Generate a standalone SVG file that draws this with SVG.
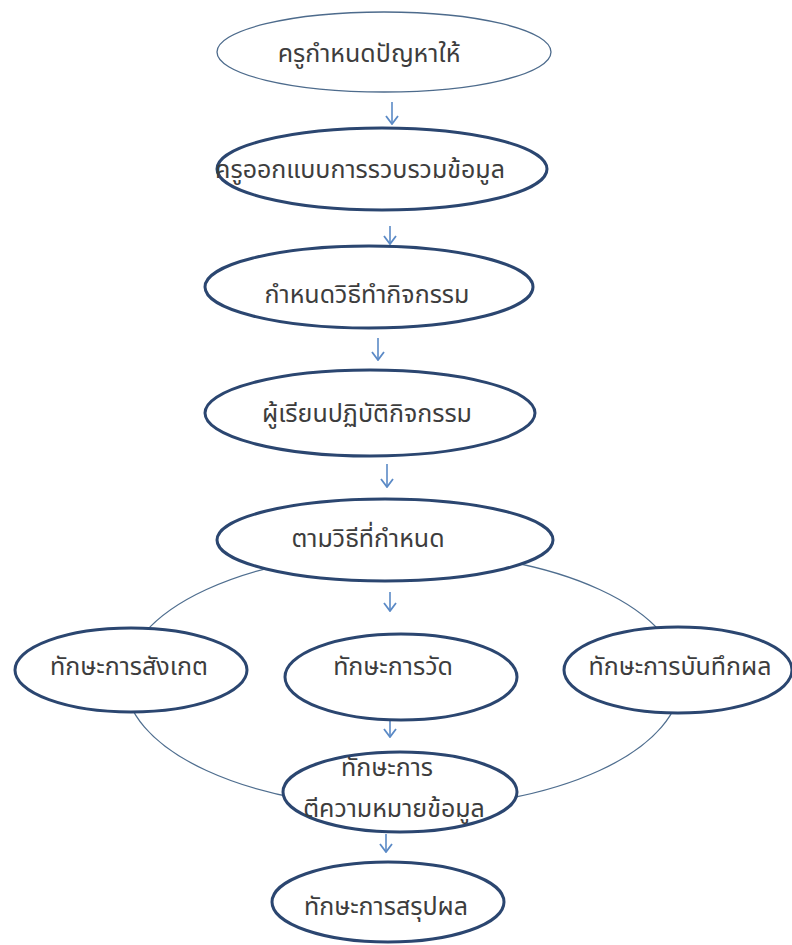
<svg xmlns="http://www.w3.org/2000/svg" width="792" height="945" viewBox="0 0 792 945">
<style>
  .bg { fill: #ffffff; }
  .node { fill: #ffffff; stroke: #2b4670; stroke-width: 3; }
  .node-thin { fill: #ffffff; stroke: #4d6b8c; stroke-width: 1.3; }
  .ring { fill: none; stroke: #4f6e8f; stroke-width: 1.3; }
  .arrow { fill: none; stroke: #5b8ac6; stroke-width: 1.6; }
  .label { font-family: "Noto Sans Thai", "Noto Sans", "DejaVu Sans", sans-serif; font-size: 25px; fill: #3d3d3d; text-anchor: middle; }
</style>
<defs>
  <marker id="vhead" viewBox="0 0 10 14" refX="9" refY="7" markerWidth="10" markerHeight="14" markerUnits="userSpaceOnUse" orient="auto">
    <path d="M1,1 L9,7 L1,13" fill="none" stroke="#5b8ac6" stroke-width="1.8"/>
  </marker>
</defs>
<rect class="bg" x="0" y="0" width="792" height="945"/>

<g id="connectors">
  <ellipse class="ring" cx="403" cy="680" rx="278" ry="128"/>
  <line class="arrow" x1="392" y1="102" x2="392" y2="124" marker-end="url(#vhead)"/>
  <line class="arrow" x1="390" y1="226" x2="390" y2="244" marker-end="url(#vhead)"/>
  <line class="arrow" x1="378" y1="338" x2="378" y2="360" marker-end="url(#vhead)"/>
  <line class="arrow" x1="387" y1="464" x2="387" y2="487" marker-end="url(#vhead)"/>
  <line class="arrow" x1="390" y1="592" x2="390" y2="611" marker-end="url(#vhead)"/>
  <line class="arrow" x1="390" y1="720" x2="390" y2="737" marker-end="url(#vhead)"/>
  <line class="arrow" x1="386" y1="834" x2="386" y2="852" marker-end="url(#vhead)"/>
</g>

<g id="node1">
  <ellipse class="node-thin" cx="384" cy="52" rx="167" ry="40"/>
  <text class="label" x="369" y="62">ครูกำหนดปัญหาให้</text>
</g>
<g id="node2">
  <ellipse class="node" cx="382" cy="169" rx="165" ry="41"/>
  <text class="label" x="360" y="178">ครูออกแบบการรวบรวมข้อมูล</text>
</g>
<g id="node3">
  <ellipse class="node" cx="369" cy="287" rx="164" ry="41"/>
  <text class="label" x="367" y="303">กำหนดวิธีทำกิจกรรม</text>
</g>
<g id="node4">
  <ellipse class="node" cx="370" cy="413" rx="165" ry="43"/>
  <text class="label" x="367" y="422">ผู้เรียนปฏิบัติกิจกรรม</text>
</g>
<g id="node5">
  <ellipse class="node" cx="385" cy="540" rx="168" ry="41"/>
  <text class="label" x="368" y="547">ตามวิธีที่กำหนด</text>
</g>
<g id="node6">
  <ellipse class="node" cx="131" cy="670" rx="116" ry="42"/>
  <text class="label" x="129" y="675">ทักษะการสังเกต</text>
</g>
<g id="node7">
  <ellipse class="node" cx="401" cy="677" rx="116" ry="43"/>
  <text class="label" x="393" y="675">ทักษะการวัด</text>
</g>
<g id="node8">
  <ellipse class="node" cx="678" cy="670" rx="114" ry="43"/>
  <text class="label" x="680" y="675">ทักษะการบันทึกผล</text>
</g>
<g id="node9">
  <ellipse class="node" cx="400" cy="792" rx="117" ry="40"/>
  <text class="label" x="387" y="776">ทักษะการ</text>
  <text class="label" x="394" y="817">ตีความหมายข้อมูล</text>
</g>
<g id="node10">
  <ellipse class="node" cx="388" cy="902" rx="116" ry="40"/>
  <text class="label" x="386" y="915">ทักษะการสรุปผล</text>
</g>
</svg>
